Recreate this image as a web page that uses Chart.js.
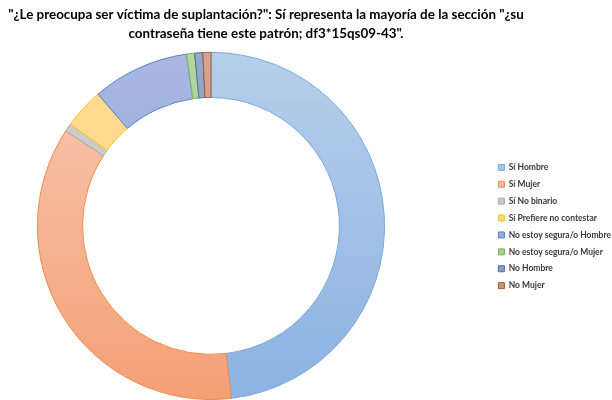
<!DOCTYPE html>
<html>
<head>
<meta charset="utf-8">
<script src="https://cdn.jsdelivr.net/npm/chart.js@4"></script>
<style>
  html, body { margin: 0; padding: 0; background: #fff; }
  #wrap { width: 612px; height: 400px; }
</style>
</head>
<body>
<div id="wrap"><canvas id="donut" width="612" height="400"></canvas></div>
<script>
const titleLines = [
  '"¿Le preocupa ser víctima de suplantación?": Sí representa la mayoría de la sección "¿su',
  'contraseña tiene este patrón; df3*15qs09-43".'
];
const categories = [
  'Sí Hombre',
  'Sí Mujer',
  'Sí No binario',
  'Sí Prefiere no contestar',
  'No estoy segura/o Hombre',
  'No estoy segura/o Mujer',
  'No Hombre',
  'No Mujer'
];
const counts = [64, 48, 1, 5, 12, 1, 1, 1];

// light (top) / dark (bottom) fill and outline per slice
const fillTop = ['#b6cfeb', '#f8c8b2', '#d0d0d0', '#ffdc95', '#a9b8e2', '#b3d69c', '#94a9c9', '#d2a596'];
const fillBottom = ['#8bb2e2', '#f4a076', '#bdbdbd', '#ffd277', '#8aa1d8', '#9fcb83', '#7f99c0', '#c48a77'];
const outline = ['#7aa8dc', '#ef8a4c', '#aaaaaa', '#ffc21a', '#5a80c9', '#7db35a', '#4a6f9c', '#a75a2e'];

function sliceFill(ctx) {
  const area = ctx.chart.chartArea;
  const i = ctx.dataIndex;
  if (!area) return fillBottom[i];
  const g = ctx.chart.ctx.createLinearGradient(0, area.top, 0, area.bottom);
  g.addColorStop(0, fillTop[i]);
  g.addColorStop(1, fillBottom[i]);
  return g;
}

// legend sits at the far right, doughnut keeps the left part
const sideLegend = {
  id: 'sideLegend',
  beforeInit(chart) {
    const fit = chart.legend.fit;
    chart.legend.fit = function () {
      fit.call(this);
      this.width = 190;
    };
  },
  afterLayout(chart) {
    chart.legend.left = 490;
    chart.legend.right = 612;
    chart.legend.top = 53;
    chart.legend.bottom = 400;
    chart.titleBlock.left = 0;
    chart.titleBlock.right = 532;
  }
};

new Chart(document.getElementById('donut'), {
  type: 'doughnut',
  data: {
    labels: categories,
    datasets: [{
      data: counts,
      backgroundColor: sliceFill,
      borderColor: outline,
      borderWidth: 1,
      hoverBorderWidth: 1
    }]
  },
  options: {
    responsive: false,
    animation: false,
    cutout: '74%',
    layout: { padding: 0 },
    plugins: {
      title: {
        display: true,
        text: titleLines,
        color: '#000',
        font: { family: 'Lato', size: 13.4, weight: 'bold', lineHeight: 1.45 },
        padding: { top: 5, bottom: 8 }
      },
      legend: {
        position: 'right',
        labels: {
          boxWidth: 6,
          boxHeight: 6,
          padding: 8.4,
          color: '#3a3a3a',
          font: { family: 'Lato', size: 8.5, weight: 'bold' }
        }
      },
      tooltip: { enabled: false }
    }
  },
  plugins: [sideLegend]
});
</script>
</body>
</html>
